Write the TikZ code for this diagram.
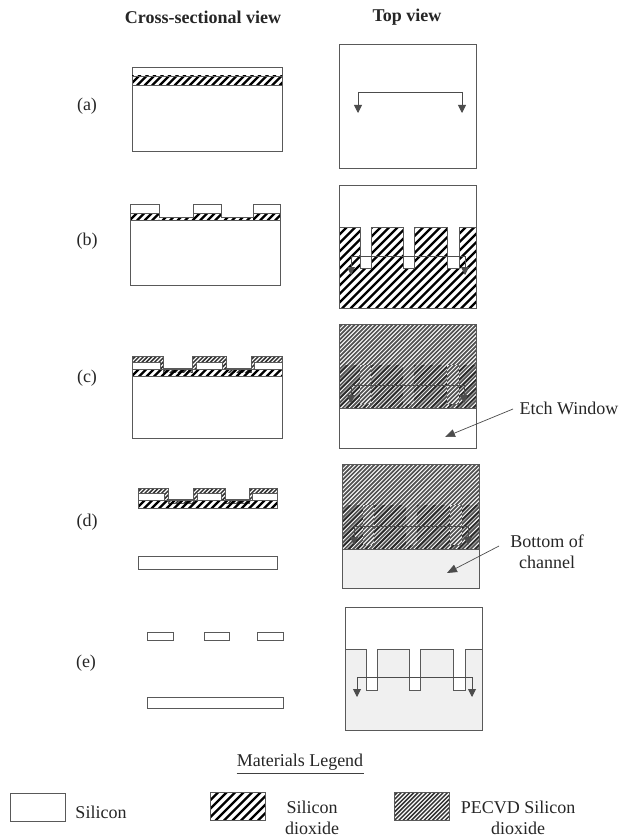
\documentclass[tikz,border=0pt]{standalone}
\usepackage{fontspec}
\setmainfont{Liberation Serif}
\usetikzlibrary{arrows.meta}
\definecolor{lightfill}{gray}{0.94}
\definecolor{edge}{gray}{0.35}
\definecolor{arrowc}{gray}{0.3}
% \hatch{x0}{y0}{x1}{y1}{spacing}{line width}{colour}
\newcommand{\hatch}[7]{%
  \begin{scope}
    \clip (#1,#2) rectangle (#3,#4);
    \pgfmathsetmacro{\hspan}{(#3-#1)+(#4-#2)+#5}
    \foreach \hk in {0,#5,...,\hspan} {
      \draw[line width=#6,color=#7] (#1+\hk-#4+#2-1,#4+0.5) -- ++(#4-#2+2,-#4+#2-2);
    }
  \end{scope}}
\newcommand{\oxhatch}[4]{\hatch{#1}{#2}{#3}{#4}{7.5}{2.3pt}{black}}
\newcommand{\tophatch}[4]{\hatch{#1}{#2}{#3}{#4}{8.5}{2.2pt}{black}}
\newcommand{\oxide}[4]{\oxhatch{#1}{#2}{#3}{#4}\draw[box] (#1,#2) rectangle (#3,#4);}
\newcommand{\pecvd}[4]{\fill[white] (#1,#2) rectangle (#3,#4);\hatch{#1}{#2}{#3}{#4}{4.2}{1.5pt}{black!80}\draw[box] (#1,#2) rectangle (#3,#4);}
\tikzset{
  box/.style={draw=edge,line width=0.8pt},
  lbl/.style={font=\fontsize{18}{21}\selectfont,align=center,inner sep=0pt,text=black!85},
  head/.style={font=\fontsize{18}{21}\selectfont\bfseries,inner sep=0pt,text=black!85},
  tri/.style={draw=arrowc,line width=0.9pt,-{Triangle[length=8pt,width=8pt]}},
  bar/.style={draw=arrowc,line width=0.9pt},
  call/.style={draw=black!70,line width=0.7pt,-{Triangle[length=10pt,width=8pt]}},
}
\begin{document}
\begin{tikzpicture}[x=1pt,y=-1pt]
\useasboundingbox (0,0) rectangle (621,837);
\fill[white] (0,0) rectangle (621,837);
\node[head] (h1) at (203,17) {Cross-sectional view};
\node[head] (h2) at (407,17) {Top view};
\node[lbl] (la) at (87,106) {(a)};
\node[lbl] (lb) at (87,241) {(b)};
\node[lbl] (lc) at (87,378) {(c)};
\node[lbl] (ld) at (87,522) {(d)};
\node[lbl] (le) at (86,663) {(e)};

% (a) cross
\draw[box] (132,67) rectangle (282,76);
\oxide{132}{76}{282}{85}
\draw[box] (132,85) rectangle (282,151);

% (b) cross
\foreach \xa/\xb in {130/159,193/221,253/280} {
  \draw[box] (\xa,204) rectangle (\xb,213);
  \oxhatch{\xa}{213}{\xb}{220}
}
\oxhatch{159}{217}{193}{220}
\oxhatch{221}{217}{253}{220}
\draw[box] (130,220) -- (130,213) -- (159,213) -- (159,217) -- (193,217) -- (193,213) -- (221,213) -- (221,217) -- (253,217) -- (253,213) -- (280,213) -- (280,220);
\draw[box] (130,220) rectangle (280,285);

% (c) cross
\foreach \xa/\xb/\xc/\xd in {132/163/132/160,192/226/196/222,251/282/254/282} {
  \pecvd{\xa}{356}{\xb}{369}
  \fill[white] (\xc,362) rectangle (\xd,369);
  \draw[box] (\xc,362) rectangle (\xd,369);
}
\pecvd{163}{368}{192}{373}
\pecvd{226}{368}{251}{373}
\fill[white] (132,373) rectangle (282,376);
\oxide{132}{369}{282}{376}
\draw[box] (132,376) rectangle (282,438);

% (d) cross
\foreach \xa/\xb/\xc/\xd in {138/168/138/164,193/225/197/221,249/277/252/277} {
  \pecvd{\xa}{488}{\xb}{500}
  \fill[white] (\xc,493) rectangle (\xd,500);
  \draw[box] (\xc,493) rectangle (\xd,500);
}
\pecvd{168}{499}{193}{503}
\pecvd{225}{499}{249}{503}
\oxide{138}{500}{277}{508}
\draw[box] (138,556) rectangle (277,569);

% (e) cross
\foreach \xa/\xb in {147/173,204/229,257/283} { \draw[box] (\xa,632) rectangle (\xb,640); }
\draw[box] (147,697) rectangle (283,708);

% (a) top
\draw[box] (339,44) rectangle (476,168);

% (b) top
\tophatch{339}{227}{476}{308}
\foreach \xa/\xb in {360/371,403/414,447/459} {
  \fill[white] (\xa,226) rectangle (\xb,268);
  \draw[box] (\xa,227) -- (\xa,268) -- (\xb,268) -- (\xb,227);
}
\draw[box] (339,185) rectangle (476,308);
\draw[box] (339,227) -- (360,227) (371,227) -- (403,227) (414,227) -- (447,227) (459,227) -- (476,227);

% (c) top
\hatch{339}{324}{476}{408}{4.2}{1.7pt}{black!68}
\begin{scope}[opacity=0.5]
\tophatch{339}{365}{476}{408}
\end{scope}
\foreach \xa/\xb in {360/371,403/414,447/459} {
  \fill[white] (\xa,365) rectangle (\xb,404);
  \hatch{\xa}{365}{\xb}{404}{4.2}{1.7pt}{black!68}
}
\draw[box] (339,324) rectangle (476,448);
\draw[box] (339,408) -- (476,408);

% (d) top
\fill[lightfill] (342,549) rectangle (479,588);
\hatch{342}{464}{479}{549}{4.2}{1.7pt}{black!68}
\begin{scope}[opacity=0.5]
\tophatch{342}{505}{479}{549}
\end{scope}
\foreach \xa/\xb in {363/374,406/417,450/462} {
  \fill[white] (\xa,505) rectangle (\xb,545);
  \hatch{\xa}{505}{\xb}{545}{4.2}{1.7pt}{black!68}
}
\draw[box] (342,464) rectangle (479,588);
\draw[box] (342,549) -- (479,549);

% (e) top
\fill[lightfill] (345,649) -- (366,649) -- (366,690) -- (377,690) -- (377,649) -- (409,649) -- (409,690) -- (420,690) -- (420,649) -- (453,649) -- (453,690) -- (465,690) -- (465,649) -- (482,649) -- (482,730) -- (345,730) -- cycle;
\draw[box] (345,607) rectangle (482,730);
\draw[box] (345,649) -- (366,649) -- (366,690) -- (377,690) -- (377,649) -- (409,649) -- (409,690) -- (420,690) -- (420,649) -- (453,649) -- (453,690) -- (465,690) -- (465,649) -- (482,649);

% section markers
\coordinate (a1) at (358,92); \coordinate (a2) at (462,92);
\coordinate (a3) at (358,113); \coordinate (a4) at (462,113);
\draw[tri] (a1) -- (a3); \draw[tri] (a2) -- (a4); \draw[bar] (a1) -- (a2);
\coordinate (b1) at (351,256); \coordinate (b2) at (465,256);
\coordinate (b3) at (351,275); \coordinate (b4) at (465,275);
\draw[tri] (b1) -- (b3); \draw[tri] (b2) -- (b4); \draw[bar] (b1) -- (b2);
\coordinate (c1) at (351,385); \coordinate (c2) at (464,385);
\coordinate (c3) at (351,403); \coordinate (c4) at (464,403);
\draw[tri] (c1) -- (c3); \draw[tri] (c2) -- (c4); \draw[bar] (c1) -- (c2);
\coordinate (d1) at (354,526); \coordinate (d2) at (468,526);
\coordinate (d3) at (354,545); \coordinate (d4) at (468,545);
\draw[tri] (d1) -- (d3); \draw[tri] (d2) -- (d4); \draw[bar] (d1) -- (d2);
\coordinate (e1) at (357,677); \coordinate (e2) at (472,677);
\coordinate (e3) at (357,697); \coordinate (e4) at (472,697);
\draw[tri] (e1) -- (e3); \draw[tri] (e2) -- (e4); \draw[bar] (e1) -- (e2);

% callouts
\node[lbl] (etch) at (569,408) {Etch Window};
\coordinate (etchS) at (513,409); \coordinate (etchT) at (445,437);
\draw[call] (etchS) -- (etchT);
\node[lbl] (bot) at (547,551.5) {Bottom of\\channel};
\coordinate (botS) at (499,546); \coordinate (botT) at (447,573);
\draw[call] (botS) -- (botT);

% legend
\node[lbl] (lt) at (300,762) {Materials Legend};
\draw[black!75,line width=0.8pt] (lt.south west) ++(0,3) -- ++(127,0);
\draw[box] (10,793) rectangle (65,821);
\node[lbl] (l1) at (101,812) {Silicon};
\tophatch{210.5}{792}{265}{820}
\draw[box] (210.5,792) rectangle (265,820);
\node[lbl] (l2) at (312,817.5) {Silicon\\dioxide};
\hatch{394}{792}{449}{820}{4.2}{1.5pt}{black!80}
\draw[box] (394,792) rectangle (449,820);
\node[lbl] (l3) at (518,817.5) {PECVD Silicon\\dioxide};
\end{tikzpicture}
\end{document}
